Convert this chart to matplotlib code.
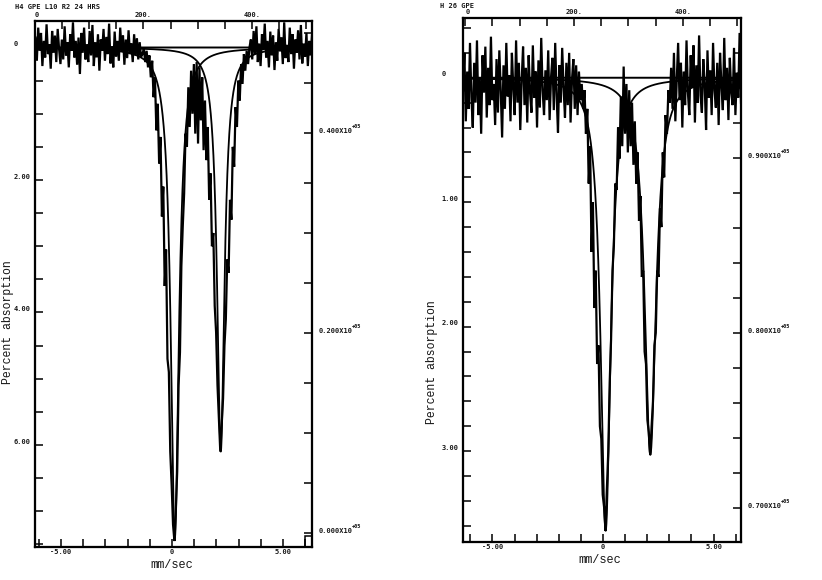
import numpy as np
import matplotlib
matplotlib.use('Agg')
import matplotlib.pyplot as plt
from matplotlib.patches import Rectangle
from matplotlib.transforms import offset_copy

MONO = 'DejaVu Sans Mono'
TYPE = 'Liberation Mono'
INK = '#161616'

# ---- left spectrum: "H4 GPE", percent absorption, 200 points across the velocity scan
h4_absorption = [
    -0.15, 0.20, -0.30, 0.05, -0.22, 0.28, -0.10, 0.15, -0.35, 0.10,
    -0.05, 0.32, -0.25, 0.08, -0.18, 0.22, -0.28, 0.02, 0.25, -0.12,
    0.18, -0.32, 0.12, -0.08, 0.30, -0.20, 0.05, -0.38, 0.15, -0.10,
    0.26, -0.15, 0.40, -0.22, 0.08, -0.30, 0.18, -0.05, 0.22, -0.25,
    0.12, -0.34, 0.28, -0.08, 0.15, -0.20, 0.35, -0.12, 0.05, -0.28,
    0.20, -0.16, 0.10, -0.36, 0.24, -0.02, 0.30, -0.24, 0.14, -0.10,
    0.20, -0.30, 0.06, -0.18, 0.26, -0.12, 0.16, -0.26, 0.10, -0.06,
    0.22, -0.20, 0.12, -0.14, 0.18, -0.08, 0.14,
    0.10, 0.02, 0.22, 0.05, 0.30, 0.12, 0.45, 0.20, 0.75, 0.45,
    1.25, 0.85, 1.75, 1.35, 2.55, 2.10, 3.60, 3.05, 4.70, 4.90,
    6.10, 6.60, 7.20, 7.45, 7.00, 6.40, 5.10, 4.60, 3.30, 2.70,
    2.20, 1.30, 1.50, 0.60, 1.20, 0.35, 1.00, 0.25, 1.30, 0.22,
    1.45, 0.30, 1.10, 0.45, 1.55, 0.80, 1.70, 1.20, 2.30, 1.90,
    3.00, 2.80, 3.90, 4.30, 5.10, 5.60, 6.10, 5.70, 5.30, 4.50,
    4.10, 3.20, 3.40, 2.30, 2.60, 1.50, 1.80, 0.90, 1.20, 0.50,
    0.80, 0.25, 0.55, 0.10, 0.35, 0.05, 0.25, 0.00,
    -0.12, 0.18, -0.25, 0.10, -0.32, 0.22, -0.06, 0.28, -0.20, 0.04,
    -0.36, 0.15, -0.10, 0.30, -0.24, 0.12, -0.18, 0.34, -0.08, 0.20,
    -0.28, 0.06, -0.15, 0.25, -0.38, 0.16, -0.04, 0.22, -0.30, 0.10,
    -0.20, 0.32, -0.12, 0.08, -0.26, 0.18, -0.34, 0.24, -0.06, 0.14,
    -0.22, 0.28, -0.10, 0.12, -0.18,
]
h4_vel_span = (-6.15, 6.31)
h4_centres = [0.13, 2.20]
h4_widths = [0.44, 0.40]
h4_depths = [7.40, 6.10]

# ---- right spectrum: "H 26 GPE"
h26_absorption = [
    0.10, -0.20, 0.35, -0.05, 0.25, -0.28, 0.15, 0.40, -0.12, 0.20,
    -0.30, 0.30, 0.00, 0.45, -0.18, 0.12, -0.25, 0.32, -0.08, 0.22,
    -0.33, 0.18, 0.05, 0.38, -0.15, 0.28, -0.22, 0.10, 0.48, -0.10,
    0.25, -0.28, 0.15, -0.02, 0.35, -0.20, 0.08, 0.30, -0.30, 0.20,
    -0.12, 0.42, 0.02, -0.25, 0.22, -0.08, 0.36, -0.18, 0.12, 0.28,
    -0.26, 0.16, -0.05, 0.40, -0.14, 0.24, -0.32, 0.10, 0.30, -0.06,
    0.18, -0.22, 0.34, 0.00, -0.16, 0.26, -0.28, 0.14, 0.44, -0.10,
    0.20, -0.24, 0.08, 0.32, -0.12, 0.22, -0.20, 0.36, 0.02, -0.15,
    0.25, -0.10, 0.30, -0.05, 0.18,
    0.05, 0.25, 0.10, 0.45, 0.25, 0.85, 0.55, 1.40, 1.00, 1.85,
    1.55, 2.30, 2.15, 2.80, 2.90, 3.35, 3.45, 3.64, 3.30, 3.00,
    2.45, 2.10, 1.55, 1.35, 0.85, 0.90, 0.40, 0.65, 0.15, 0.55,
    -0.09, 0.45, 0.05, 0.60, 0.10, 0.55, 0.20, 0.70, 0.35, 0.85,
    0.60, 1.15, 0.95, 1.60, 1.55, 2.20, 2.30, 2.75, 2.85, 3.03,
    2.80, 2.60, 2.15, 2.05, 1.55, 1.60, 1.05, 1.20, 0.60, 0.80,
    0.30, 0.45, 0.10, 0.20,
    -0.08, 0.25, -0.20, 0.35, 0.02, -0.28, 0.18, -0.12, 0.40, -0.05,
    0.22, -0.30, 0.12, 0.30, -0.18, 0.08, -0.26, 0.36, -0.10, 0.20,
    -0.34, 0.14, 0.28, -0.15, 0.05, 0.42, -0.22, 0.16, -0.06, 0.30,
    -0.28, 0.10, 0.24, -0.12, 0.38, -0.20, 0.06, 0.26, -0.32, 0.18,
    -0.08, 0.34, -0.16, 0.12, 0.22, -0.24, 0.30, -0.04, 0.16, -0.36,
    0.20,
]
h26_vel_span = (-6.33, 6.24)
h26_centres = [0.12, 2.14]
h26_widths = [0.55, 0.62]
h26_depths = [3.64, 3.03]

# axis labels
h4_pct_labels = [(0, '0'), (2, '2.00'), (4, '4.00'), (6, '6.00')]
h26_pct_labels = [(0, '0'), (1, '1.00'), (2, '2.00'), (3, '3.00')]
h4_count_labels = [(0.4, '0.400X10'), (0.2, '0.200X10'), (0.0, '0.000X10')]
h26_count_labels = [(0.9, '0.900X10'), (0.8, '0.800X10'), (0.7, '0.700X10')]
chan_labels = [(0, '0'), (200, '200.'), (400, '400.')]
vel_labels = [(-5, '-5.00'), (0, '0'), (5, '5.00')]


def lorentz(v, centre, width, depth):
    return depth / (1.0 + (2.0 * (v - centre) / width) ** 2)


def draw_panel(fig, rect, absorb, span, centres, widths, depths, cfg):
    ax = fig.add_axes(rect)
    vel = np.linspace(span[0], span[1], len(absorb))
    vfit = np.linspace(cfg['xlim'][0], cfg['xlim'][1], 4000)

    ax.plot(vfit, np.zeros_like(vfit), color='black', lw=1.4)
    for c, w, d in zip(centres, widths, depths):
        ax.plot(vfit, lorentz(vfit, c, w, d), color='black', lw=1.3)
    ax.plot(vel, absorb, color='black', lw=1.6, solid_joinstyle='miter')

    ax.set_xlim(cfg['xlim'])
    ax.set_ylim(cfg['ylim'])
    ax.set_xticks(range(-6, 7))
    ax.set_xticklabels(['' for _ in range(-6, 7)])
    trx = offset_copy(ax.get_xaxis_transform(), fig=fig, y=-1.5, units='points')
    for v, s in vel_labels:
        ax.text(v, 0, s, transform=trx, ha='center', va='top',
                fontsize=5, fontweight='bold', family=MONO, color=INK)
    ax.set_yticks(cfg['yticks'])
    ax.set_yticklabels([])
    ax.tick_params(direction='in', length=5.5, width=1.1, top=False, right=False)

    tr = offset_copy(ax.get_yaxis_transform(), fig=fig, x=-15.5, y=2.5, units='points')
    for val, s in cfg['pct_labels']:
        ax.text(0, val, s, transform=tr, ha='left', va='center',
                fontsize=5, fontweight='bold', family=MONO, color=INK)

    # counts axis on the right
    axr = ax.twinx()
    axr.set_ylim(cfg['count_lim'])
    axr.set_yticks(cfg['count_ticks'])
    axr.set_yticklabels([])
    axr.tick_params(direction='in', length=5.5, width=1.1)
    trm = offset_copy(axr.get_yaxis_transform(), fig=fig, x=4.5, y=1.5, units='points')
    tre = offset_copy(axr.get_yaxis_transform(), fig=fig, x=29.0, y=4.5, units='points')
    for val, s in cfg['count_labels']:
        axr.text(1, val, s, transform=trm, ha='left', va='center',
                 fontsize=5, fontweight='bold', family=MONO, color=INK)
        axr.text(1, val, '+05', transform=tre, ha='left', va='center',
                 fontsize=3.8, fontweight='bold', family=MONO, color=INK)

    # channel axis on top
    axt = ax.twiny()
    axt.set_xlim(cfg['chan_lim'])
    axt.set_xticks(range(0, 501, 50))
    axt.set_xticklabels(['' for _ in range(0, 501, 50)])
    axt.tick_params(direction='in', length=5.5, width=1.1)
    trt = offset_copy(axt.get_xaxis_transform(), fig=fig, y=2.5, units='points')
    for ch, s in chan_labels:
        axt.text(ch, 1, s, transform=trt, ha='left' if ch == 0 else 'center', va='bottom',
                 fontsize=5, fontweight='bold', family=MONO, color=INK)

    for a in (ax, axr, axt):
        for sp in a.spines.values():
            sp.set_linewidth(1.5)
    return ax


fig = plt.figure(figsize=(8.22, 5.80), dpi=100)

left_cfg = dict(xlim=(-6.17, 6.31), ylim=(7.54, -0.40),
                yticks=np.arange(0, 7.51, 0.5), pct_labels=h4_pct_labels,
                count_lim=(-0.014, 0.512), count_ticks=np.arange(0, 0.51, 0.05),
                count_labels=h4_count_labels, chan_lim=(0, 511))
right_cfg = dict(xlim=(-6.33, 6.24), ylim=(3.73, -0.48),
                 yticks=np.arange(-0.4, 3.61, 0.2), pct_labels=h26_pct_labels,
                 count_lim=(0.6807, 0.9778), count_ticks=np.arange(0.70, 0.98, 0.02),
                 count_labels=h26_count_labels, chan_lim=(-4, 507))

axl = draw_panel(fig, [35 / 822, 1 - 547 / 580, 277 / 822, 526 / 580],
                 h4_absorption, h4_vel_span, h4_centres, h4_widths, h4_depths, left_cfg)
axl.add_patch(Rectangle((0.975, 0.0), 0.025, 0.02, transform=axl.transAxes,
                        fill=False, lw=1.1, color='black'))
draw_panel(fig, [463 / 822, 1 - 542 / 580, 278 / 822, 524 / 580],
           h26_absorption, h26_vel_span, h26_centres, h26_widths, h26_depths, right_cfg)

fig.text(15 / 822, 1 - 7 / 580, 'H4 GPE L10 R2 24 HRS', ha='left', va='center',
         fontsize=5, fontweight='bold', family=MONO, color=INK)
fig.text(440 / 822, 1 - 6 / 580, 'H 26 GPE', ha='left', va='center',
         fontsize=5, fontweight='bold', family=MONO, color=INK)

fig.text(8 / 822, 1 - 322 / 580, 'Percent absorption', rotation=90, ha='center', va='center',
         fontsize=8.3, family=TYPE, color=INK)
fig.text(432 / 822, 1 - 362 / 580, 'Percent absorption', rotation=90, ha='center', va='center',
         fontsize=8.3, family=TYPE, color=INK)
fig.text(172 / 822, 1 - 565 / 580, 'mm/sec', ha='center', va='center',
         fontsize=8.6, family=TYPE, color=INK)
fig.text(600 / 822, 1 - 560 / 580, 'mm/sec', ha='center', va='center',
         fontsize=8.6, family=TYPE, color=INK)

fig.savefig('out.png', dpi=100)
